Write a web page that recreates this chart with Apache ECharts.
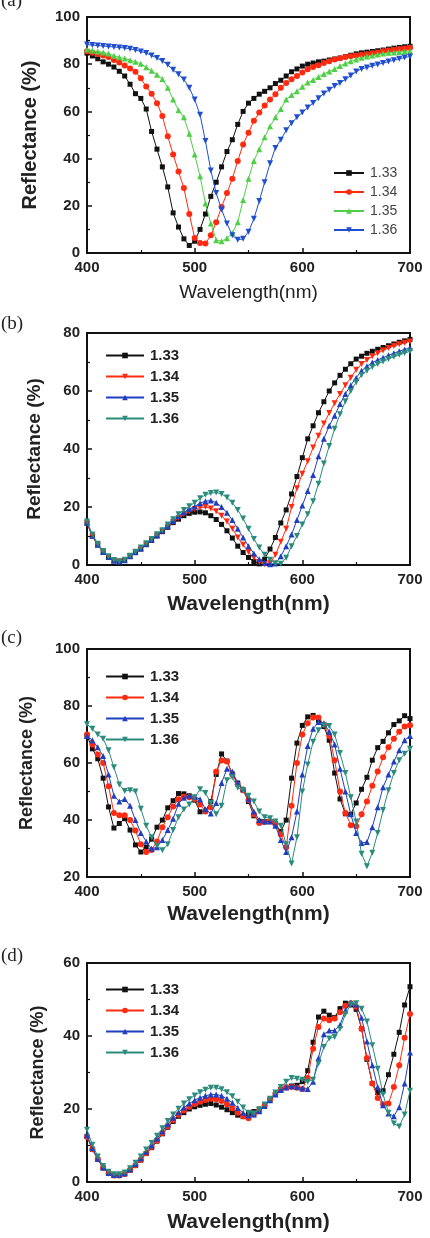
<!DOCTYPE html>
<html>
<head>
<meta charset="utf-8">
<script src="https://cdn.jsdelivr.net/npm/echarts@6/dist/echarts.min.js"></script>
<style>
  body { margin: 0; background: #fff; width: 430px; height: 1238px; overflow: hidden; position: relative; }
  .panel { position: absolute; left: 0; width: 430px; }
</style>
</head>
<body>
<div id="pa" class="panel" style="top:0; height:310px;"></div>
<div id="pb" class="panel" style="top:310px; height:310px;"></div>
<div id="pc" class="panel" style="top:620px; height:310px;"></div>
<div id="pd" class="panel" style="top:930px; height:308px;"></div>
<script>
// wavelength (nm), shared by every curve
var wl = [400,405,410,415,420,425,430,435,440,445,450,455,460,465,470,475,480,485,490,495,
  500,505,510,515,520,525,530,535,540,545,550,555,560,565,570,575,580,585,590,595,
  600,605,610,615,620,625,630,635,640,645,650,655,660,665,670,675,680,685,690,695,700];
var names = ["1.33", "1.34", "1.35", "1.36"];
var xTicks = [400, 500, 600, 700];

// (a)
var a133 = [84.7,83.5,82.3,81,80,78.8,77,75,71.5,67.5,65.5,61,51.5,44,36.5,28,17,11,6,3.2,
  5,10,16.5,24,30,36.5,43,48,54.5,60,63.5,65.5,67.3,68.5,70,71.8,73.2,75,76.8,78,
  79.2,80,80.5,81,81.3,81.8,82.2,82.6,83.2,83.8,84.4,84.8,85.1,85.4,85.7,86,86.4,86.8,87.1,87.4,87.6];
var a134 = [85.5,84.9,84.3,83.7,83,81.8,80.7,79.5,78.2,76.8,74,70.5,67.5,63.5,58,49.5,41.7,34.5,27.5,16.5,
  6.4,4.2,4,7.5,13,19.5,25.4,31.5,39,46,51,56,59.5,62.5,65,67.3,70,72,73.6,75,
  76.5,77.9,78.8,79.6,80.5,81.3,82,82.5,83,83.4,83.7,84,84.2,84.6,85,85.5,85.8,86.1,86.4,86.7,87];
var a135 = [86.2,85.8,85.4,85,84.5,83.6,82.9,82.4,81.7,81,80.2,78.7,77.2,75.5,73.7,70,65,60.5,57.5,50.5,
  41.7,32.5,21,12.5,5.4,5,6.2,8.5,13,22.5,31.5,39,44,49,53.7,57.5,61,65,67,68.5,
  70.4,72.2,73.3,74.6,75.9,76.9,78,79.2,80.3,81.3,82,82.7,83.3,83.7,84.1,84.5,84.8,85,85.2,85.4,85.5];
var a136 = [88.3,88.1,87.9,87.7,87.5,87.3,87.1,86.9,86.5,86,85.4,84.7,83.7,82.6,81.4,79.8,77.6,75.7,73.5,70,
  65,58.6,47.5,35,25.4,18.4,12.5,7.5,5.6,6,9,14.5,22,30,38,44.5,48,52,55,57.5,
  59.5,61.6,63.6,65.6,67.6,69.2,70.8,72,73.6,75.2,76.9,78,78.6,79.3,79.9,80.5,81.1,81.7,82.3,82.8,83.3];

// (b)
var b133 = [14.5,10,7,4.5,2.8,1.5,1.2,1.6,3,4.3,5.5,7,8.5,10,11.5,13,14.6,15.8,17,17.8,
  18.2,18.3,18,17,15.7,14,11.8,9.3,6.5,4.3,2.6,1.2,0.4,2,5.5,9.5,14.5,19,24.5,30.5,
  37,43.5,48,52.5,56.3,60,62.8,65.4,67.5,69.4,71,72,73,73.7,74.4,75,75.6,76.2,76.8,77.3,77.8];
var b134 = [14.3,9.8,6.8,4.4,2.7,1.5,1.2,1.6,3,4.3,5.6,7.1,8.6,10.1,11.7,13.2,14.8,16.2,17.5,18.5,
  19.3,19.8,20,19.5,18.5,17,15,12.5,9.5,7,4.5,2.5,1,0.3,0.6,3.5,8,12.5,20,26.5,
  31.5,35.8,40.5,44.6,48.8,52.4,55.8,59,62,64.6,67.3,69.3,70.7,72,73,74,74.8,75.5,76.1,76.6,77.1];
var b135 = [14.6,10.1,7,4.5,2.8,1.5,1.2,1.6,3,4.4,5.7,7.2,8.8,10.3,11.9,13.4,15.2,16.8,18.2,19.3,
  20.2,21.3,22,22.2,21.5,20,18,15.5,12.5,9.5,6.5,4,2,0.8,0.3,0.5,3,6.5,10.5,15.5,
  20.5,25.5,31,37.5,43.5,48,51.5,55.5,59,62,64.5,67,68.5,69.8,70.7,71.5,72.3,73,73.7,74.3,74.9];
var b136 = [15,10.5,7.3,4.8,3,1.7,1.3,1.8,3.2,4.6,6,7.5,9,10.6,12,14,15.8,17.5,19,20.3,
  21.5,23,24.2,24.8,25,24.5,23.3,21.5,19,16,12.5,9,6,3.5,1.8,0.6,0.4,2.5,6.5,10,
  14,17.5,22,28,35,41,47,52,56.5,60,63,65.5,67,68.3,69.3,70.2,71,71.8,72.5,73.1,73.7];

// (c)
var c133 = [69.5,65,61.5,54.7,44.6,37.2,38.8,40.5,36.5,31.3,28.8,30.5,33.3,37.5,40,44.3,46.8,49.3,49.2,48.5,
  47,42.9,43.2,46.5,56,63.2,60.7,56.2,53,50.5,46.5,41.5,39.6,39.5,39.5,38.7,36,40,54.7,67,
  73.2,76.2,76.7,75,72.8,68,56.5,47.4,42.2,42,46,50.8,55,61,65.4,67.6,70.6,73.5,74.8,76.6,75.6];
var c134 = [70,66.5,63,60,51.9,42.5,41.7,41.7,40,36.3,31.5,28.8,29.5,32.5,37.5,41,44.8,47.3,48.2,48,
  47.4,45.5,43,44.5,57,60.9,60.5,56,52.5,50.5,47,42,39,39.3,39.5,38.5,35,30.5,45,60,
  70,74,76,76,73.5,69.5,61,50,42.5,38.2,37.8,42,46.5,52,57,62,65.5,68.5,71,72.8,73.3];
var c135 = [69.5,68,65.5,62.5,56,48.5,46.5,47.4,45,40,35.5,32.5,29.9,30.5,33,36.5,40.5,45.7,47.8,48.5,
  48.2,47.3,43.8,42.3,46,53,58,57,53,51,47.5,43,40,39.5,39.5,38,33,28.8,34,43,
  56,66,72,74.4,74,71,66.5,58,50,42,35.5,32,32.3,37.5,44.5,51.5,56,60.5,64.5,68,69.5];
var c136 = [73.6,72,70,68.5,64.5,58.5,52.5,50.2,50.5,50,44,38,34,31,29.4,31.5,36.5,41,43.7,45.5,
  48,50.8,49.5,46,42,45,54,55,51.3,50.5,48.5,46.5,43,41,40.6,39.5,38,31.5,24.8,34,
  50,59.5,67.5,71.5,73.3,73,70,63.5,56.5,48,39.5,28.2,23.8,28.5,35.5,43.5,50.5,56.5,61,63.3,65];

// (d)
var d133 = [12.5,9,6.2,3.9,2.5,1.9,1.8,2.2,3.2,4.5,6,7.8,9.4,11.2,13.2,15,16.6,18,19,20,
  20.6,21,21.3,21.5,21.1,20.5,19.8,19,18.3,17.9,18.7,19.3,20,21,22.5,24,25.4,26,26.3,26.5,
  27.5,30.5,38.3,45.2,46.8,45.7,45.1,47.5,49,48.5,47.3,42,33.6,27,24.5,25,29.4,35,41,48.5,53.5];
var d134 = [12.3,9,6.2,3.9,2.4,1.8,1.8,2.2,3.3,4.6,6.1,7.9,9.6,11.4,13.4,15.3,17,18.4,19.6,20.6,
  21.4,22,22.5,22.8,22.7,22.2,21.3,20.2,19,18,17.5,18.5,19.5,21,22.7,24.2,25.3,25.9,26,25.8,
  25.5,28.5,36.5,42.5,44.8,44.3,44.8,46.5,48.3,49,48,42,34,27,23,21.3,21.5,26,32,39.5,46];
var d135 = [12.8,9.3,6.4,4,2.5,1.9,1.9,2.4,3.5,4.9,6.5,8.3,10,11.9,13.9,15.8,17.6,19.1,20.4,21.5,
  22.4,23.1,23.6,24,24,23.6,22.8,21.7,20.3,19,18.2,18.5,19.4,20.8,22.4,24,25.2,25.9,26.2,26,
  25.6,25.5,27.5,34,40.5,41.5,41.5,43,47,49.2,48.6,45,38.5,32,26,21,18.8,18,20.5,27,35.5];
var d136 = [14.3,10.2,7,4.4,2.8,2.1,2.1,2.6,3.8,5.3,7,8.9,10.7,12.7,14.7,16.7,18.5,20.1,21.5,22.7,
  23.7,24.6,25.3,25.8,25.8,25.4,24.6,23.5,22,20.4,19,18.8,19.8,21.2,22.8,24.5,26,27.5,28.5,28.3,
  28,27.5,28,32.5,37,39.3,39.7,42,46,48.6,49,47.5,44,37.5,31,24,19,16,15.2,18.5,25];

var TRI_DOWN = "path://M0,0L10,0L5,9Z";

function pairs(ys) {
  var out = [];
  for (var i = 0; i < wl.length; i++) out.push([wl[i], ys[i]]);
  return out;
}

function drawPanel(id, cfg) {
  var chart = echarts.init(document.getElementById(id), null, { renderer: "canvas" });
  var series = [];
  for (var i = 0; i < cfg.data.length; i++) {
    series.push({
      name: names[i],
      type: "line",
      data: pairs(cfg.data[i]),
      symbol: cfg.symbols[i],
      symbolSize: cfg.symbols[i] === "rect" ? 5 : 6,
      showAllSymbol: true,
      color: cfg.colors[i],
      lineStyle: { width: 1, color: cfg.colors[i] },
      itemStyle: { color: cfg.colors[i] },
      animation: false,
      z: 2 + i
    });
  }
  chart.setOption({
    animation: false,
    backgroundColor: "#fff",
    graphic: [{
      type: "text", left: 1, top: cfg.tagTop,
      style: { text: cfg.tag, font: '19px "Liberation Serif"', fill: "#222" }
    }],
    legend: {
      data: names,
      orient: "vertical",
      left: cfg.legend.left,
      top: cfg.legend.top,
      itemWidth: cfg.legend.itemWidth,
      itemHeight: 7,
      itemGap: cfg.legend.itemGap,
      selectedMode: false,
      textStyle: {
        fontFamily: "Liberation Sans",
        fontSize: cfg.legend.fontSize,
        fontWeight: cfg.legend.bold ? "bold" : "normal",
        color: cfg.legend.bold ? "#222" : "#444",
        padding: [0, 0, 0, 1]
      }
    },
    grid: {
      left: 87, top: cfg.gridTop, width: 323, height: cfg.gridHeight,
      show: true, borderColor: "#111", borderWidth: 2, backgroundColor: "transparent"
    },
    xAxis: {
      type: "value", min: 400, max: 700, interval: 100,
      name: "Wavelength(nm)", nameLocation: "middle", nameGap: cfg.xNameGap,
      nameTextStyle: {
        fontFamily: "Liberation Sans", fontSize: cfg.xNameSize, color: "#222",
        fontWeight: cfg.xNameBold ? "bold" : "normal"
      },
      axisLine: { show: false },
      axisTick: { show: true, inside: true, length: 5, lineStyle: { color: "#111", width: 1.5 } },
      minorTick: { show: true, splitNumber: 2, length: 3, lineStyle: { color: "#111", width: 1.2 } },
      splitLine: { show: false },
      axisLabel: {
        margin: 7, fontFamily: "Liberation Sans", fontSize: 15, fontWeight: "bold", color: "#222",
        formatter: function (v) { return xTicks.indexOf(v) >= 0 ? String(v) : ""; }
      }
    },
    yAxis: {
      type: "value", min: cfg.yMin, max: cfg.yMax, interval: 20,
      name: "Reflectance (%)", nameLocation: "middle", nameGap: cfg.yNameGap,
      nameTextStyle: { fontFamily: "Liberation Sans", fontSize: cfg.yNameSize, fontWeight: "bold", color: "#222" },
      axisLine: { show: false },
      axisTick: { show: true, inside: true, length: 5, lineStyle: { color: "#111", width: 1.5 } },
      minorTick: { show: true, splitNumber: 2, length: 3, lineStyle: { color: "#111", width: 1.2 } },
      splitLine: { show: false },
      axisLabel: { margin: 7, fontFamily: "Liberation Sans", fontSize: 15, fontWeight: "bold", color: "#222" }
    },
    series: series
  });
  return chart;
}

drawPanel("pa", {
  tag: "(a)", tagTop: -8,
  gridTop: 17, gridHeight: 236,
  yMin: 0, yMax: 100, yNameGap: 47, yNameSize: 20, xNameGap: 30, xNameSize: 19, xNameBold: false,
  data: [a133, a134, a135, a136],
  colors: ["#111111", "#ff2a10", "#4fcf45", "#1f4fd0"],
  symbols: ["rect", "circle", "triangle", TRI_DOWN],
  legend: { left: 328, top: 161, itemWidth: 30, itemGap: 5, fontSize: 14, bold: false }
});

drawPanel("pb", {
  tag: "(b)", tagTop: 5,
  gridTop: 23, gridHeight: 236,
  yMin: 0, yMax: 80, yNameGap: 43, yNameSize: 19, xNameGap: 29, xNameSize: 21, xNameBold: true,
  data: [b133, b134, b135, b136],
  colors: ["#111111", "#ff2a10", "#1f3fc0", "#2a8c7c"],
  symbols: ["rect", TRI_DOWN, "triangle", TRI_DOWN],
  legend: { left: 100, top: 33, itemWidth: 38, itemGap: 6, fontSize: 15, bold: true }
});

drawPanel("pc", {
  tag: "(c)", tagTop: 9,
  gridTop: 29, gridHeight: 237,
  yMin: 20, yMax: 100, yNameGap: 51, yNameSize: 18, xNameGap: 25, xNameSize: 21, xNameBold: true,
  data: [c133, c134, c135, c136],
  colors: ["#111111", "#ff2a10", "#1f3fc0", "#2a8c7c"],
  symbols: ["rect", "circle", "triangle", TRI_DOWN],
  legend: { left: 100, top: 44, itemWidth: 38, itemGap: 6, fontSize: 15, bold: true }
});

drawPanel("pd", {
  tag: "(d)", tagTop: 17,
  gridTop: 33, gridHeight: 236,
  yMin: 0, yMax: 60, yNameGap: 40, yNameSize: 18, xNameGap: 30, xNameSize: 21, xNameBold: true,
  data: [d133, d134, d135, d136],
  colors: ["#111111", "#ff2a10", "#1f3fc0", "#2a8c7c"],
  symbols: ["rect", "circle", "triangle", TRI_DOWN],
  legend: { left: 100, top: 47, itemWidth: 38, itemGap: 6, fontSize: 15, bold: true }
});
</script>
</body>
</html>
